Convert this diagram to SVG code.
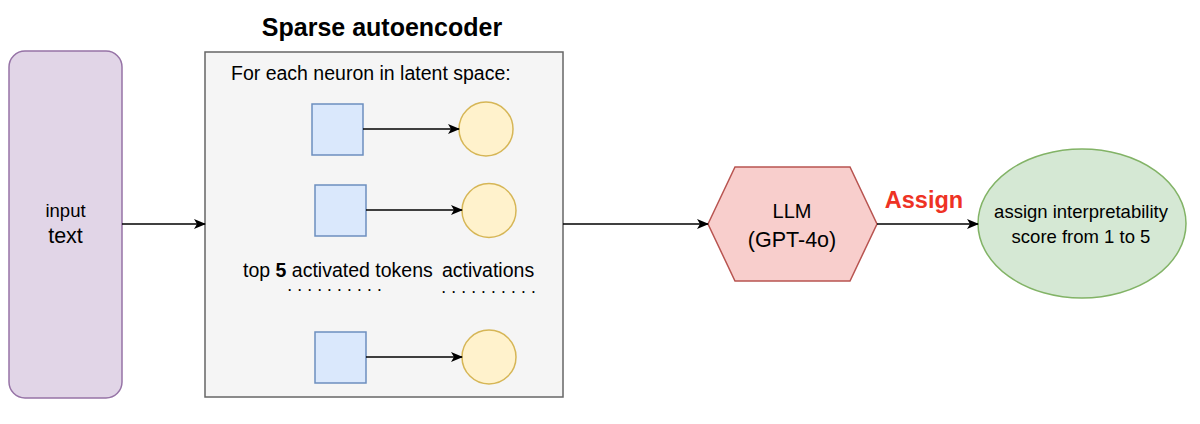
<svg xmlns="http://www.w3.org/2000/svg" width="1200" height="424" viewBox="0 0 1200 424">
<defs>
<style>
text{font-family:"Liberation Sans",Arial,Helvetica,sans-serif;fill:#000}
.t{font-size:19.5px}
.c{text-anchor:middle}
.dots{font-size:12px;font-weight:bold;letter-spacing:1.65px}
.edge{fill:none;stroke:#000;stroke-width:1.5}
.sq{fill:#dae8fc;stroke:#6c8ebf;stroke-width:1.5}
.ci{fill:#fff2cc;stroke:#d6b656;stroke-width:1.5}
</style>
<marker id="arr" viewBox="0 0 12 10" refX="11" refY="5" markerWidth="12" markerHeight="10" markerUnits="userSpaceOnUse" orient="auto">
<path d="M0,0 L12,5 L0,10 L3,5 Z" fill="#000"/>
</marker>
</defs>
<rect width="1200" height="424" fill="#fff"/>

<g id="input">
<rect x="9" y="51" width="113" height="347" rx="16" ry="16" fill="#e1d5e7" stroke="#9673a6" stroke-width="1.5"/>
<text x="65.5" y="217" class="c" font-size="18.5px">input</text>
<text x="65.5" y="243" class="c" font-size="21.5px">text</text>
</g>

<g id="sae">
<text x="382" y="36" class="c" font-size="25px" font-weight="bold">Sparse autoencoder</text>
<rect x="205" y="52" width="358" height="345" fill="#f5f5f5" stroke="#666666" stroke-width="1.5"/>
<text x="231" y="80" class="t">For each neuron in latent space:</text>
<text x="243" y="277" class="t">top <tspan font-weight="bold">5</tspan> activated tokens</text>
<text x="442" y="277" class="t">activations</text>
<text x="288" y="291" class="dots">. . . . . . . . . .</text>
<text x="442" y="293" class="dots">. . . . . . . . . .</text>
</g>

<g id="token1"><rect class="sq" x="312" y="104" width="51" height="51"/></g>
<g id="act1"><circle class="ci" cx="486" cy="129" r="27"/></g>
<g id="token2"><rect class="sq" x="315" y="185" width="51" height="51"/></g>
<g id="act2"><circle class="ci" cx="489" cy="210.5" r="27"/></g>
<g id="token3"><rect class="sq" x="315" y="332" width="51" height="51"/></g>
<g id="act3"><circle class="ci" cx="489" cy="357" r="27"/></g>

<g id="llm">
<polygon points="708,224 735,167 850,167 877,224 850,281 735,281" fill="#f8cecc" stroke="#b85450" stroke-width="1.5"/>
<text x="792" y="218" class="c" font-size="20px">LLM</text>
<text x="792" y="247" class="c" font-size="21.5px">(GPT-4o)</text>
</g>

<g id="score">
<ellipse cx="1082" cy="223.5" rx="104" ry="74.5" fill="#d5e8d4" stroke="#82b366" stroke-width="1.5"/>
<text x="1081" y="218" class="c" font-size="18.5px">assign interpretability</text>
<text x="1081" y="243" class="c" font-size="18.5px">score from 1 to 5</text>
</g>

<g id="connectors">
<line class="edge" x1="122" y1="224" x2="205" y2="224" marker-end="url(#arr)"/>
<line class="edge" x1="363" y1="129" x2="459" y2="129" marker-end="url(#arr)"/>
<line class="edge" x1="366" y1="210" x2="462" y2="210" marker-end="url(#arr)"/>
<line class="edge" x1="366" y1="357" x2="462" y2="357" marker-end="url(#arr)"/>
<line class="edge" x1="563" y1="224" x2="708" y2="224" marker-end="url(#arr)"/>
<line class="edge" x1="877" y1="224" x2="978" y2="224" marker-end="url(#arr)"/>
<text x="924" y="208" class="c" font-size="23.5px" font-weight="bold" style="fill:#ee3224">Assign</text>
</g>
</svg>
